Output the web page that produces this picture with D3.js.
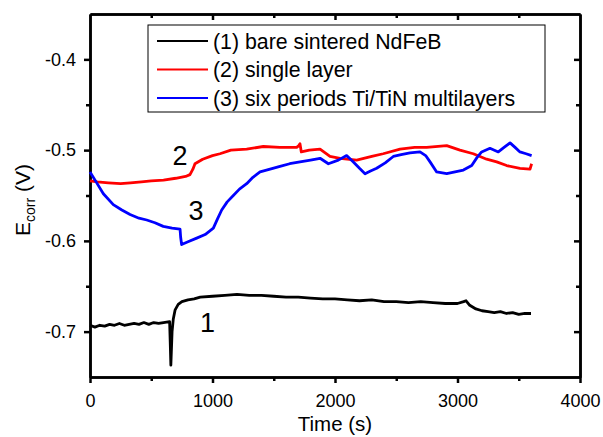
<!DOCTYPE html>
<meta charset="utf-8">
<title>Ecorr vs time</title>
<style>
body { margin: 0; background: #fff; }
text { font-family: "Liberation Sans", Arial, sans-serif; fill: #000; }
.curve { fill: none; stroke-width: 2.8px; stroke-linejoin: round; }
</style>
<svg></svg>
<script src="https://d3js.org/d3.v7.min.js"></script>
<script>
// series (time in s, potential in V)
var bareT = [0, 40, 80, 120, 160, 200, 240, 280, 320, 360, 400, 440, 480, 520, 560, 600, 650, 655, 660, 664, 670, 680, 695, 720, 750, 800, 850, 900, 1000, 1100, 1200, 1300, 1400, 1500, 1600, 1700, 1800, 1900, 2000, 2100, 2200, 2300, 2400, 2500, 2600, 2700, 2800, 2900, 3000, 3050, 3070, 3100, 3150, 3200, 3250, 3300, 3350, 3400, 3450, 3500, 3550, 3600];
var bareV = [-0.693, -0.695, -0.693, -0.694, -0.692, -0.693, -0.691, -0.693, -0.692, -0.691, -0.692, -0.690, -0.692, -0.690, -0.691, -0.690, -0.689, -0.712, -0.737, -0.722, -0.700, -0.686, -0.676, -0.670, -0.667, -0.665, -0.664, -0.662, -0.661, -0.660, -0.659, -0.660, -0.660, -0.661, -0.662, -0.662, -0.663, -0.664, -0.664, -0.665, -0.666, -0.665, -0.667, -0.667, -0.668, -0.667, -0.668, -0.669, -0.669, -0.667, -0.666, -0.671, -0.675, -0.677, -0.678, -0.679, -0.678, -0.680, -0.679, -0.681, -0.680, -0.680];

var singleT = [0, 60, 150, 250, 330, 420, 500, 600, 700, 780, 816, 840, 857, 920, 1000, 1061, 1150, 1279, 1415, 1550, 1687, 1705, 1714, 1725, 1790, 1878, 1959, 2041, 2177, 2300, 2393, 2531, 2650, 2748, 2912, 3020, 3129, 3238, 3320, 3401, 3510, 3592, 3605];
var singleV = [-0.534, -0.535, -0.536, -0.537, -0.536, -0.535, -0.534, -0.533, -0.531, -0.529, -0.527, -0.521, -0.515, -0.510, -0.506, -0.504, -0.500, -0.499, -0.496, -0.497, -0.497, -0.495, -0.493, -0.502, -0.500, -0.499, -0.507, -0.509, -0.511, -0.507, -0.504, -0.499, -0.497, -0.497, -0.495, -0.500, -0.504, -0.510, -0.513, -0.517, -0.520, -0.521, -0.515];

var multiT = [0, 50, 109, 190, 260, 327, 400, 463, 530, 598, 670, 735, 740, 748, 800, 871, 940, 1007, 1040, 1075, 1120, 1170, 1220, 1279, 1330, 1388, 1470, 1551, 1630, 1714, 1800, 1878, 1946, 2027, 2095, 2150, 2200, 2245, 2290, 2340, 2410, 2476, 2540, 2612, 2694, 2740, 2776, 2830, 2912, 2980, 3048, 3116, 3160, 3197, 3265, 3333, 3380, 3429, 3470, 3510, 3560, 3605];
var multiV = [-0.524, -0.535, -0.548, -0.560, -0.566, -0.571, -0.575, -0.577, -0.580, -0.584, -0.586, -0.587, -0.596, -0.604, -0.601, -0.597, -0.593, -0.586, -0.576, -0.566, -0.557, -0.550, -0.543, -0.537, -0.530, -0.524, -0.521, -0.518, -0.515, -0.513, -0.511, -0.509, -0.515, -0.511, -0.506, -0.513, -0.520, -0.526, -0.523, -0.520, -0.514, -0.507, -0.505, -0.503, -0.502, -0.506, -0.513, -0.524, -0.526, -0.524, -0.522, -0.517, -0.508, -0.502, -0.498, -0.502, -0.497, -0.492, -0.497, -0.502, -0.504, -0.506];

var seriesNames = ["(1) bare sintered NdFeB", "(2) single layer", "(3) six periods Ti/TiN multilayers"];
var seriesColors = ["#000000", "#ff0000", "#0000ff"];
var xTicks = [0, 1000, 2000, 3000, 4000];
var yTicks = [-0.7, -0.6, -0.5, -0.4];

var width = 603, height = 437;
var margin = {left: 90, right: 23, top: 14, bottom: 60};

var svg = d3.select("svg")
    .attr("width", width)
    .attr("height", height);

var x = d3.scaleLinear().domain([0, 4000]).range([margin.left, width - margin.right]);
var y = d3.scaleLinear().domain([-0.75, -0.35]).range([height - margin.bottom, margin.top]);

var minorX = d3.range(500, 4000, 1000);
var minorY = [-0.65, -0.55, -0.45];
var yFmt = function(d) { return d.toFixed(1); };  // plain hyphen minus, as in the original

// bottom axis: ticks outward
svg.append("g")
    .attr("transform", "translate(0," + y.range()[0] + ")")
    .call(d3.axisBottom(x).tickValues(xTicks).tickSize(6).tickSizeOuter(0).tickPadding(11).tickFormat(d3.format("d")));
svg.append("g")
    .attr("transform", "translate(0," + y.range()[0] + ")")
    .call(d3.axisBottom(x).tickValues(minorX).tickSize(4).tickSizeOuter(0).tickFormat(""));

// left axis: ticks outward
svg.append("g")
    .attr("transform", "translate(" + x.range()[0] + ",0)")
    .call(d3.axisLeft(y).tickValues(yTicks).tickSize(6).tickSizeOuter(0).tickPadding(8).tickFormat(yFmt));
svg.append("g")
    .attr("transform", "translate(" + x.range()[0] + ",0)")
    .call(d3.axisLeft(y).tickValues(minorY).tickSize(4).tickSizeOuter(0).tickFormat(""));

// top & right axes: ticks inward
svg.append("g")
    .attr("transform", "translate(0," + y.range()[1] + ")")
    .call(d3.axisBottom(x).tickValues(xTicks.slice(1, -1)).tickSize(6).tickSizeOuter(0).tickFormat(""));
svg.append("g")
    .attr("transform", "translate(0," + y.range()[1] + ")")
    .call(d3.axisBottom(x).tickValues(minorX).tickSize(4).tickSizeOuter(0).tickFormat(""));
svg.append("g")
    .attr("transform", "translate(" + x.range()[1] + ",0)")
    .call(d3.axisLeft(y).tickValues(yTicks).tickSize(6).tickSizeOuter(0).tickFormat(""));
svg.append("g")
    .attr("transform", "translate(" + x.range()[1] + ",0)")
    .call(d3.axisLeft(y).tickValues(minorY).tickSize(4).tickSizeOuter(0).tickFormat(""));

svg.selectAll(".domain, .tick line").attr("stroke", "#000").attr("stroke-width", 2.5);
svg.selectAll(".tick text").style("font-size", "18px").style("font-family", "Liberation Sans, Arial, sans-serif");

// curves
var line = d3.line()
    .x(function(d) { return x(d[0]); })
    .y(function(d) { return y(d[1]); });
var series = [d3.zip(bareT, bareV), d3.zip(singleT, singleV), d3.zip(multiT, multiV)];
svg.selectAll(".curve")
    .data(series)
  .enter().append("path")
    .attr("class", "curve")
    .attr("stroke", function(d, i) { return seriesColors[i]; })
    .attr("d", line);

// curve numbers
var tags = [["1", 960, -0.6905], ["2", 735, -0.5055], ["3", 865, -0.5665]];
svg.selectAll(".tag")
    .data(tags)
  .enter().append("text")
    .attr("class", "tag")
    .attr("x", function(d) { return x(d[1]); })
    .attr("y", function(d) { return y(d[2]); })
    .attr("text-anchor", "middle")
    .attr("dy", "0.35em")
    .style("font-size", "27px")
    .text(function(d) { return d[0]; });

// legend
var legend = svg.append("g");
legend.append("rect")
    .attr("x", 148).attr("y", 25).attr("width", 397).attr("height", 87)
    .attr("fill", "#fff").attr("stroke", "#000").attr("stroke-width", 1);
seriesNames.forEach(function(name, i) {
  var ly = 41 + i * 28.5;
  legend.append("line")
      .attr("x1", 157).attr("x2", 208).attr("y1", ly).attr("y2", ly)
      .attr("stroke", seriesColors[i]).attr("stroke-width", 2.2);
  legend.append("text")
      .attr("x", 213).attr("y", ly).attr("dy", "0.36em")
      .style("font-size", "21.3px")
      .text(name);
});

// axis titles
svg.append("text")
    .attr("x", x(2000)).attr("y", 431)
    .attr("text-anchor", "middle")
    .style("font-size", "20.5px")
    .text("Time (s)");

var ylab = svg.append("text")
    .attr("transform", "translate(30," + y(-0.555) + ") rotate(-90)")
    .attr("text-anchor", "middle")
    .style("font-size", "21px");
ylab.append("tspan").text("E");
ylab.append("tspan").attr("dy", 5).style("font-size", "14px").text("corr");
ylab.append("tspan").attr("dy", -5).text(" (V)");
</script>
